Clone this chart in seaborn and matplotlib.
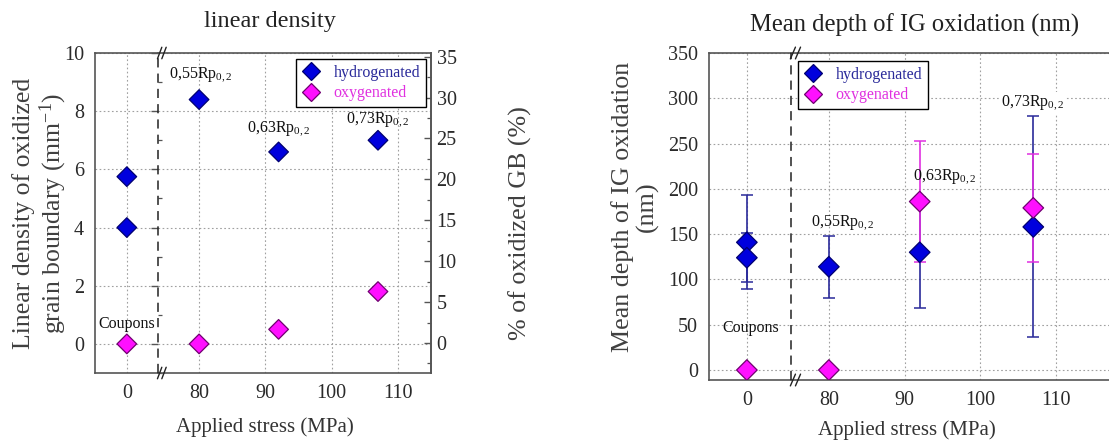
import numpy as np
import pandas as pd
import matplotlib
matplotlib.use("Agg")
import matplotlib.pyplot as plt
import seaborn as sns
from matplotlib.ticker import MultipleLocator, FixedLocator
from matplotlib.lines import Line2D

# ---------------- data ----------------
stress_density_h = [0, 0, 80, 92, 107]
density_h = [5.75, 4.0, 8.4, 6.6, 7.0]
stress_density_o = [0, 80, 92, 107]
density_o = [0.0, 0.0, 0.5, 1.8]

stress_depth_h = [0, 0, 80, 92, 107]
depth_h = [141, 124, 114, 130, 158]
depth_h_err = [52, 27, 34, 61, 122]
stress_depth_o = [0, 80, 92, 107]
depth_o = [0, 0, 186, 179]
depth_o_err = [0, 0, 67, 60]

series_names = ["hydrogenated", "oxygenated"]
left_annotations = [("Coupons", 0, 0.7), ("0,55Rp$_\\mathregular{0,2}$", 80.2, 9.25),
                    ("0,63Rp$_\\mathregular{0,2}$", 92, 7.4), ("0,73Rp$_\\mathregular{0,2}$", 107, 7.7)]
right_annotations = [("Coupons", 0.5, 46), ("0,55Rp$_\\mathregular{0,2}$", 81.8, 163),
                     ("0,63Rp$_\\mathregular{0,2}$", 95.3, 213), ("0,73Rp$_\\mathregular{0,2}$", 106.9, 295)]

# ---------------- style ----------------
sns.set_theme(style="white")
plt.rcParams["font.family"] = ["Liberation Serif", "DejaVu Serif"]
plt.rcParams["mathtext.fontset"] = "custom"
plt.rcParams["mathtext.rm"] = "Liberation Serif"
plt.rcParams["mathtext.it"] = "Liberation Serif:italic"

BLUE = "#0000dd"
BLUE_EDGE = "#000070"
MAG = "#ff10ff"
MAG_EDGE = "#700070"
BLUE_ERR = "#2a2a9a"
MAG_ERR = "#e030e0"
SPINE = "#555555"
GRID = "#a0a0a0"
TICKC = "#2a2a2a"
palette = {"hydrogenated": BLUE, "oxygenated": MAG}
edges = {"hydrogenated": BLUE_EDGE, "oxygenated": MAG_EDGE}

W, H = 1109, 443
fig = plt.figure(figsize=(W / 100, H / 100), dpi=100)


def fr(x0, y0, x1, y1):
    return [x0 / W, 1 - y1 / H, (x1 - x0) / W, (y1 - y0) / H]


def style_axes(ax, side):
    for s in ax.spines.values():
        s.set_color(SPINE)
        s.set_linewidth(1.2)
    ax.tick_params(axis="both", which="major", direction="out", length=5, width=1.0,
                   color=SPINE, labelsize=14.5, labelcolor=TICKC, pad=3)
    ax.tick_params(axis="both", which="minor", direction="in", length=3, width=0.9, color=SPINE)
    ax.grid(True, which="major", linestyle=(0, (1.5, 2.2)), color=GRID, linewidth=0.8)
    ax.set_facecolor("white")
    if side == "L":
        ax.spines["right"].set_visible(False)
    else:
        ax.spines["left"].set_visible(False)
        ax.tick_params(axis="y", which="both", left=False, labelleft=False)


def break_marks(ax):
    # dashed separator and // marks at the axis break
    ax.plot([0, 0], [0, 1], transform=ax.transAxes, color="#222222", ls=(0, (6, 4)),
            lw=1.1, clip_on=False, zorder=5)
    for yy in (0, 1):
        for dx in (0.006, 0.022):
            ax.plot([dx - 0.008, dx + 0.008], [yy - 0.018, yy + 0.018], transform=ax.transAxes,
                    color="#222222", lw=1.0, clip_on=False, zorder=6)


def scatter(ax, xs, ys, name, s=100):
    df = pd.DataFrame({"stress": xs, "value": ys, "series": name})
    sns.scatterplot(data=df, x="stress", y="value", hue="series", palette=palette, marker="D",
                    s=s, edgecolor=edges[name], linewidth=0.9, ax=ax, legend=False, zorder=4)


def make_legend(ax, anchor):
    handles = [Line2D([], [], marker="D", ls="", markersize=9.5, markerfacecolor=palette[n],
                      markeredgecolor=edges[n], markeredgewidth=0.9) for n in series_names]
    leg = ax.legend(handles, series_names, loc="upper left", bbox_to_anchor=anchor,
                    bbox_transform=fig.transFigure, frameon=True, fancybox=False,
                    edgecolor="black", framealpha=1, fontsize=11.5, handletextpad=0.8,
                    borderpad=0.35, labelspacing=0.3, handlelength=1.2, borderaxespad=0,
                    labelcolor=[BLUE_ERR, MAG_ERR])
    leg.get_frame().set_linewidth(1.0)
    leg.set_zorder(10)


# ================= LEFT PANEL =================
axL1 = fig.add_axes(fr(95, 53, 158, 373))
axR1 = fig.add_axes(fr(158, 53, 431, 373), sharey=axL1)
for ax, side in ((axL1, "L"), (axR1, "R")):
    style_axes(ax, side)
    scatter(ax, stress_density_h, density_h, "hydrogenated")
    scatter(ax, stress_density_o, density_o, "oxygenated")
    ax.set_xlabel("")
    ax.set_ylabel("")
axL1.set_xlim(-4.8, 4.7)
axR1.set_xlim(73.8, 115)
axL1.set_ylim(-1, 10)
axL1.yaxis.set_major_locator(MultipleLocator(2))
axL1.yaxis.set_minor_locator(MultipleLocator(1))
axL1.xaxis.set_major_locator(FixedLocator([0]))
axR1.xaxis.set_major_locator(FixedLocator([80, 90, 100, 110]))
axR1.xaxis.set_minor_locator(FixedLocator([85, 95, 105]))
break_marks(axR1)

twin = axR1.twinx()
twin.set_ylim(-3.67, 35.45)
twin.yaxis.set_major_locator(MultipleLocator(5))
twin.yaxis.set_minor_locator(MultipleLocator(2.5))
for s in twin.spines.values():
    s.set_visible(False)
twin.spines["right"].set_visible(True)
twin.spines["right"].set_color(SPINE)
twin.spines["right"].set_linewidth(1.2)
twin.tick_params(axis="y", which="major", direction="in", length=5, width=1.0, color=SPINE,
                 labelsize=14.5, labelcolor=TICKC, pad=4)
twin.tick_params(axis="y", which="minor", direction="in", length=3, width=0.9, color=SPINE)
twin.grid(False)
twin.set_ylabel("% of oxidized GB (%)", fontsize=18.7, color="#404040")
twin.yaxis.set_label_coords(1.326, 0.47)
twin.yaxis.label.set_va("center")

axL1.set_ylabel("Linear density of oxidized\ngrain boundary (mm$^\\mathregular{-1}$)",
                fontsize=18.5, color="#404040", linespacing=1.1)
axL1.yaxis.set_label_coords(-0.86, 0.5)
axL1.yaxis.label.set_va("center")
axR1.set_xlabel("Applied stress (MPa)", fontsize=15, color="#333333")
axR1.xaxis.set_label_coords(0.392, -0.169)
axR1.xaxis.label.set_va("center")

for txt, x, y in left_annotations:
    ax = axL1 if x < 50 else axR1
    ax.text(x, y, txt, ha="center", va="center", fontsize=11.5, color="#111111", zorder=7)

make_legend(twin, (296 / W, 1 - 59 / H))
fig.text(270 / W, 1 - 22 / H, "linear density", ha="center", va="center", fontsize=17.5,
         color="#222222")

# ================= RIGHT PANEL =================
axL2 = fig.add_axes(fr(709, 53, 791, 380))
axR2 = fig.add_axes(fr(791, 53, 1109, 380), sharey=axL2)
for ax, side in ((axL2, "L"), (axR2, "R")):
    style_axes(ax, side)
    ax.errorbar(stress_depth_h, depth_h, yerr=depth_h_err, fmt="none", ecolor=BLUE_ERR,
                elinewidth=1.2, capsize=4.5, capthick=1.1, zorder=3)
    ax.errorbar(stress_depth_o, depth_o, yerr=depth_o_err, fmt="none", ecolor=MAG_ERR,
                elinewidth=1.2, capsize=4.5, capthick=1.1, zorder=3)
    scatter(ax, stress_depth_h, depth_h, "hydrogenated", s=110)
    scatter(ax, stress_depth_o, depth_o, "oxygenated", s=110)
    ax.set_xlabel("")
    ax.set_ylabel("")
axR2.spines["right"].set_visible(False)
axL2.set_xlim(-5, 5.83)
axR2.set_xlim(75, 117)
axL2.set_ylim(-11, 350)
axL2.yaxis.set_major_locator(MultipleLocator(50))
axL2.yaxis.set_minor_locator(MultipleLocator(25))
axL2.xaxis.set_major_locator(FixedLocator([0]))
axR2.xaxis.set_major_locator(FixedLocator([80, 90, 100, 110]))
axR2.xaxis.set_minor_locator(FixedLocator([85, 95, 105, 115]))
break_marks(axR2)

axL2.set_ylabel("Mean depth of IG oxidation\n(nm)", fontsize=18.7, color="#404040",
                linespacing=1.1)
axL2.yaxis.set_label_coords(-0.90, 0.53)
axL2.yaxis.label.set_va("center")
axR2.set_xlabel("Applied stress (MPa)", fontsize=15, color="#333333")
axR2.xaxis.set_label_coords(0.365, -0.153)
axR2.xaxis.label.set_va("center")

for txt, x, y in right_annotations:
    ax = axL2 if x < 50 else axR2
    kw = {}
    if x > 105:
        kw["bbox"] = dict(facecolor="white", edgecolor="none", pad=1)
    ax.text(x, y, txt, ha="center", va="center", fontsize=11.5, color="#111111", zorder=7, **kw)

make_legend(axR2, (798 / W, 1 - 61 / H))
fig.text(915 / W, 1 - 25 / H, "Mean depth of IG oxidation (nm)", ha="center", va="center",
         fontsize=17.7, color="#222222")

fig.savefig("out.png", dpi=100, facecolor="white")
